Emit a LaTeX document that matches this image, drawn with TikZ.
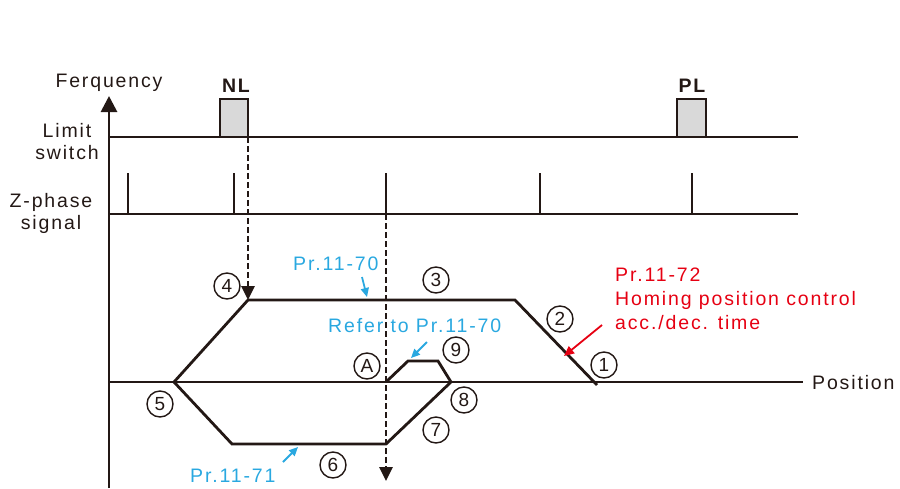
\documentclass[tikz,border=0pt]{standalone}
\usepackage{fontspec}
\setmainfont{Liberation Sans}[LetterSpace=9.5]
\newfontfamily\plainsf{Liberation Sans}
\usetikzlibrary{arrows.meta}
\definecolor{ink}{HTML}{231815}
\definecolor{cyanb}{HTML}{29A8E0}
\definecolor{redt}{HTML}{E60012}
\definecolor{swgray}{HTML}{D9D9D9}
\begin{document}
\begin{tikzpicture}[x=1pt,y=-1pt,
  lbl/.style={inner sep=0pt, font=\fontsize{19.5}{22.5}\selectfont, text=ink},
  bluelbl/.style={lbl, text=cyanb},
  redlbl/.style={lbl, text=redt, font=\fontsize{19.5}{24}\selectfont},
  num/.style={circle, draw=ink, line width=1.4pt, minimum size=26pt, inner sep=0pt,
    font=\plainsf\fontsize{19}{19}\selectfont, text=ink},
  wave/.style={draw=ink, line width=2.8pt, line join=miter},
  swbox/.style={draw=ink, fill=swgray, line width=2.4pt},
  guide/.style={draw=ink, line width=2.8pt, dash pattern=on 6pt off 3pt,
    -{Triangle[length=14pt,width=13pt]}},
  hint/.style={draw=cyanb, line width=1.8pt, -{Triangle[length=9pt,width=8pt]}},
  redhint/.style={draw=redt, line width=1.8pt, -{Triangle[length=10pt,width=9pt]}}
]
\useasboundingbox (0,0) rectangle (900,488);

% axes and signal baselines
\coordinate (ax0) at (109,488);
\coordinate (ax1) at (109,96);
\draw[wave, -{Triangle[length=16pt,width=16pt]}] (ax0) -- (ax1);
\coordinate (ls0) at (109,137); \coordinate (ls1) at (798,137);
\draw[wave] (ls0) -- (ls1);
\coordinate (zs0) at (109,214); \coordinate (zs1) at (798,214);
\draw[wave] (zs0) -- (zs1);
\coordinate (ps0) at (109,382); \coordinate (ps1) at (803,382);
\draw[wave] (ps0) -- (ps1);

% limit switch pulses
\draw[swbox] (220,137) rectangle (248,99);
\draw[swbox] (677,137) rectangle (706,99);

% Z-phase pulses
\foreach \xx/\nm in {128/za,234/zb,386/zc,540/zd,692/ze}{
  \coordinate (\nm0) at (\xx,214);
  \coordinate (\nm1) at (\xx,173);
  \draw[wave] (\nm0) -- (\nm1);
}

% labels
\node[lbl, anchor=base] (freq) at (109,87) {Ferquency};
\node[lbl, anchor=base, font=\bfseries\fontsize{19.5}{22}\selectfont] (nl) at (236,92) {NL};
\node[lbl, anchor=base, font=\bfseries\fontsize{19.5}{22}\selectfont] (pl) at (692,92) {PL};
\node[lbl, align=center, anchor=north] (limit) at (67,123) {Limit\\switch};
\node[lbl, align=center, anchor=north] (zph) at (51,193) {Z-phase\\signal};
\node[lbl, anchor=base west] (pos) at (812,389) {Position};

% trajectory corners
\coordinate (p5) at (174,382);
\coordinate (p4) at (248,300);
\coordinate (p3) at (515,300);
\coordinate (p1) at (597,385);
\coordinate (q6a) at (232,444);
\coordinate (q6b) at (386,444);
\coordinate (q8) at (451,382);
\coordinate (q9b) at (438,361);
\coordinate (q9a) at (408,361);
\coordinate (qA) at (386,382);

\draw[wave] (p5) -- (p4) -- (p3) -- (p1);
\draw[wave] (p5) -- (q6a) -- (q6b) -- (q8) -- (q9b) -- (q9a) -- (qA);

% dashed guides
\coordinate (nlbot) at (248,137);
\coordinate (zcend) at (386,481);
\draw[guide] (nlbot) -- (p4);
\draw[guide] (zc0) -- (zcend);

% circled step numbers
\node[num] (n1) at (604,365) {1};
\node[num] (n2) at (560,319) {2};
\node[num] (n3) at (436,280) {3};
\node[num] (n4) at (227,286) {4};
\node[num] (n5) at (160,404) {5};
\node[num] (n6) at (333,465) {6};
\node[num] (n7) at (436,430) {7};
\node[num] (n8) at (464,400) {8};
\node[num] (n9) at (456,350) {9};
\node[num] (nA) at (367,366) {A};

% blue parameter labels
\node[bluelbl, anchor=base west] (pr70) at (293,270) {Pr.11-70};
\node[bluelbl, anchor=base west] (ref70) at (328,332) {Refer to Pr.11-70};
\node[bluelbl, anchor=base west] (pr71) at (190,482) {Pr.11-71};
\coordinate (a70t) at (362,277); \coordinate (a70h) at (367,297);
\coordinate (arft) at (427,342); \coordinate (arfh) at (411,358);
\coordinate (a71t) at (283,462); \coordinate (a71h) at (298,447);
\draw[hint] (a70t) -- (a70h);
\draw[hint] (arft) -- (arfh);
\draw[hint] (a71t) -- (a71h);

% red label
\node[redlbl, align=left, anchor=north west] (pr72) at (615,268)
  {Pr.11-72\\Homing position control\\acc./dec. time};
\coordinate (a72t) at (602,325); \coordinate (a72h) at (564,356);
\draw[redhint] (a72t) -- (a72h);
\end{tikzpicture}
\end{document}
